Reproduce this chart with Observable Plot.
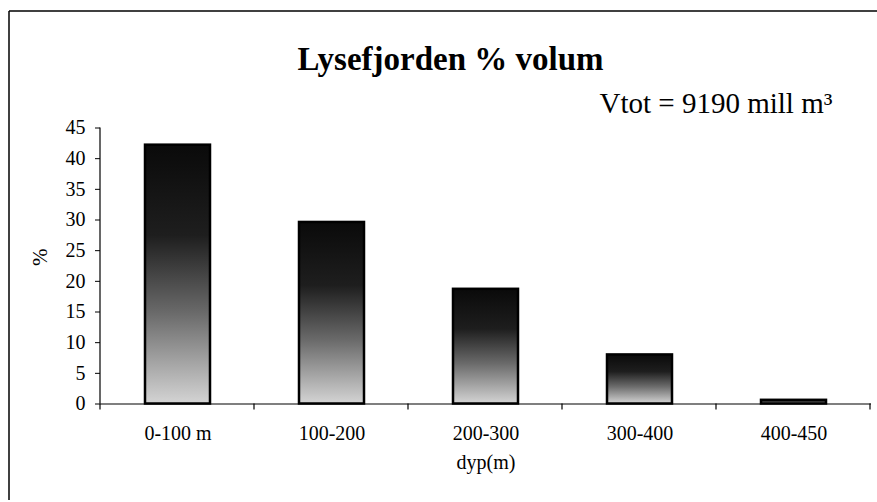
<!DOCTYPE html>
<html><head><meta charset="utf-8">
<script src="https://cdn.jsdelivr.net/npm/d3@7"></script>
<script src="https://cdn.jsdelivr.net/npm/@observablehq/plot@0.6"></script>
<style>body{margin:0;background:#fff;}</style>
</head><body><div id="chart"></div>
<script>
const categories = ["0-100 m", "100-200", "200-300", "300-400", "400-450"];
const values = [42.2, 29.6, 18.7, 8.0, 0.6];
const yTicks = [0, 5, 10, 15, 20, 25, 30, 35, 40, 45];
const title = "Lysefjorden % volum";
const note = "Vtot = 9190 mill m³";
const xLabel = "dyp(m)";
const yLabel = "%";

const data = categories.map((c, i) => ({c, v: values[i]}));
const serif = "'Liberation Serif', 'Times New Roman', serif";

const plot = Plot.plot({
  width: 877, height: 502,
  marginLeft: 100, marginRight: 6, marginTop: 127.5, marginBottom: 98.5,
  style: {fontFamily: serif, fontSize: "20px", color: "#000", background: "#fff", overflow: "visible"},
  x: {domain: categories, paddingInner: 0.58, paddingOuter: 0.29, label: null},
  y: {domain: [0, 45], label: null},
  marks: [
    Plot.barY(data, {x: "c", y: "v", fill: "url(#barGrad)", stroke: "#000", strokeWidth: 2.5}),
    Plot.ruleY([0], {stroke: "#000", strokeWidth: 1.2}),
    Plot.axisY({ticks: yTicks, tickSize: 5, tickPadding: 10, label: null, fontSize: 20}),
    Plot.axisX({tickSize: 0, tickPadding: 22, label: null, fontSize: 20}),
    Plot.text([yLabel], {frameAnchor: "left", dx: -60, rotate: -90, fontSize: 21}),
    Plot.text([xLabel], {frameAnchor: "bottom", dy: 65, fontSize: 20}),
    Plot.text([title], {frameAnchor: "top", dx: -35.5, dy: -81, fontSize: 33, fontWeight: "bold"}),
    Plot.text([note], {frameAnchor: "top-left", textAnchor: "start", dx: 499, dy: -36, fontSize: 29})
  ]
});

const svg = d3.select(plot);
const grad = svg.insert("defs", ":first-child").append("linearGradient")
  .attr("id", "barGrad").attr("x1", 0).attr("y1", 0).attr("x2", 0).attr("y2", 1);
[[0, "#0a0a0a"], [0.35, "#1e1e1e"], [0.65, "#6a6a6a"], [1, "#d4d4d4"]].forEach(([o, c]) =>
  grad.append("stop").attr("offset", o).attr("stop-color", c));

// y axis line and boundary ticks on the x axis, from the plot's own scales
const xs = plot.scale("x"), ys = plot.scale("y");
const y0 = ys.apply(0), yTop = ys.apply(45);
const g = svg.append("g").attr("stroke", "#000").attr("stroke-width", 1.2);
g.append("line").attr("x1", xs.range[0]).attr("x2", xs.range[0]).attr("y1", yTop).attr("y2", y0);
for (let i = 0; i <= categories.length; i++) {
  const x = xs.range[0] + i * xs.step;
  g.append("line").attr("x1", x).attr("x2", x).attr("y1", y0).attr("y2", y0 + 6);
}
// chart border (top and left edges)
const b = svg.append("g").attr("stroke", "#000").attr("stroke-width", 1.5);
b.append("line").attr("x1", 9).attr("x2", 877).attr("y1", 11).attr("y2", 11);
b.append("line").attr("x1", 9).attr("x2", 9).attr("y1", 11).attr("y2", 500);

document.getElementById("chart").appendChild(plot);
</script>
</body></html>
